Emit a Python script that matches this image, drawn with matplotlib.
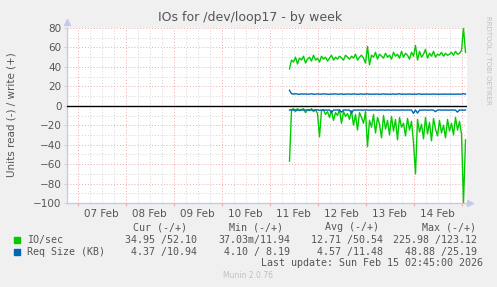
#!/usr/bin/python3

import matplotlib
matplotlib.use('Agg')
import matplotlib.pyplot as plt
import numpy as np

# hours since 07 Feb 00:00, one sample per hour
HOURS = np.arange(106, 195)

IO_WRITE = [38, 47, 45, 50, 43, 49, 47, 51, 44, 48,
            50, 46, 52, 47, 49, 45, 51, 48, 50, 46,
            49, 52, 47, 50, 48, 51, 49, 47, 52, 50,
            48, 51, 49, 53, 47, 50, 52, 49, 44, 61,
            42, 52, 50, 55, 48, 53, 51, 49, 54, 50,
            52, 48, 55, 51, 53, 49, 56, 50, 54, 52,
            48, 55, 51, 62, 47, 56, 50, 53, 58, 49,
            54, 51, 56, 50, 53, 52, 55, 51, 54, 52,
            53, 55, 52, 56, 53, 54, 57, 80, 55]

IO_READ = [57, 4, 3, 6, 3, 5, 4, 3, 7, 4,
           5, 3, 6, 4, 8, 32, 5, 4, 9, 6,
           12, 5, 15, 7, 10, 4, 18, 6, 11, 8,
           14, 5, 20, 9, 25, 7, 12, 18, 6, 42,
           15, 22, 9, 28, 12, 19, 33, 10, 24, 15,
           30, 11, 26, 14, 35, 12, 22, 18, 31, 13,
           25, 16, 38, 70, 14, 27, 19, 34, 12, 29,
           17, 36, 13, 24, 31, 15, 28, 20, 33, 14,
           26, 18, 30, 12, 25, 16, 29, 100, 35]

REQ_WRITE = [16, 12.5, 12, 12.4, 12, 11.8, 12.3, 12, 12.2, 11.9,
             12, 12.4, 11.8, 12, 12.2, 12, 11.9, 12.3, 12, 12,
             11.8, 12.1, 12, 12.3, 11.9, 12, 12.2, 11.8, 12, 12.1,
             12, 11.9, 12.2, 12, 11.8, 12, 12.1, 11.9, 12, 12.3,
             11.8, 12, 11.9, 12.1, 12, 11.8, 12, 12.2, 11.9, 12,
             11.8, 12, 12.1, 11.9, 12, 12.4, 11.8, 12, 11.9, 12,
             12.1, 11.8, 12, 11.9, 12, 12.3, 11.8, 12, 11.9, 12,
             11.8, 12, 12.1, 11.9, 12, 11.8, 12, 11.9, 12.1, 11.8,
             12, 11.9, 12, 11.8, 12.1, 11.9, 12, 12.4, 12]

REQ_READ = [4.4, 4.2, 4.5, 4.3, 4.4, 4.6, 4.3, 4.4, 4.5, 4.2,
            4.4, 4.3, 4.5, 4.4, 4.2, 4.6, 4.4, 4.3, 4.5, 4.4,
            4.3, 7.0, 4.4, 4.5, 4.3, 4.4, 6.5, 4.3, 4.4, 4.5,
            4.4, 7.5, 4.3, 4.5, 4.4, 4.3, 4.4, 4.5, 4.3, 4.4,
            4.5, 4.4, 4.3, 4.4, 4.5, 4.4, 4.3, 4.4, 4.5, 4.3,
            4.4, 4.5, 4.3, 4.4, 4.4, 4.5, 4.3, 4.4, 4.5, 4.3,
            4.4, 4.4, 7.8, 4.3, 7.5, 4.4, 4.5, 4.3, 4.4, 4.5,
            4.4, 4.3, 4.5, 6.0, 4.4, 4.3, 4.4, 4.5, 4.3, 4.4,
            4.5, 4.3, 4.4, 4.5, 6.5, 4.3, 4.4, 4.5, 4.4]

DAY_LABELS = ['07 Feb', '08 Feb', '09 Feb', '10 Feb', '11 Feb', '12 Feb', '13 Feb', '14 Feb']

LEGEND_ROWS = [('IO/sec', '#00cc00', '34.95 /52.10', '37.03m/11.94', '12.71 /50.54', '225.98 /123.12'),
               ('Req Size (KB)', '#0066b3', ' 4.37 /10.94', ' 4.10 / 8.19', ' 4.57 /11.48', '48.88 /25.19')]

W, H = 497, 287
BG = '#f0f0f0'
TXT = '#555555'
MONO = 'DejaVu Sans Mono'

fig = plt.figure(figsize=(W / 100, H / 100), dpi=100, facecolor=BG)
ax = fig.add_axes([67 / W, 1 - 203 / H, 400 / W, 175 / H], facecolor='white')

x_min, x_max = 194.75 - 200, 194.75
ax.set_xlim(x_min, x_max)
ax.set_ylim(-100, 80)

# grid: grey every 6h / 10 units, red at midnight / 20 units
for h in np.arange(-6, 200, 6):
    if x_min < h < x_max:
        major = h % 24 == 0
        ax.axvline(h, color='#f0a8a8' if major else '#d4d4d4', lw=0.7,
                   ls=(0, (1, 2)), zorder=1)
for v in range(-90, 81, 10):
    major = v % 20 == 0
    if v in (0, -100):
        continue
    ax.axhline(v, color='#f0a8a8' if major else '#d4d4d4', lw=0.7,
               ls=(0, (1, 2)), zorder=1)

hours = HOURS
ax.plot(hours, IO_WRITE, color='#00cc00', lw=1, zorder=3)
ax.plot(hours, -np.array(IO_READ), color='#00cc00', lw=1, zorder=3)
ax.plot(hours, REQ_WRITE, color='#0066b3', lw=1, zorder=4)
ax.plot(hours, -np.array(REQ_READ), color='#0066b3', lw=1, zorder=4)
ax.axhline(0, color='black', lw=1, zorder=5)

for s in ['top', 'right']:
    ax.spines[s].set_visible(False)
for s in ['left', 'bottom']:
    ax.spines[s].set_color('#c8c8ec')
    ax.spines[s].set_linewidth(1)

ax.set_yticks(range(-100, 81, 20))
ax.tick_params(axis='y', length=2, color='#d4d4d4', labelsize=7.5, labelcolor=TXT, pad=2)
ax.set_xticks([24 * k for k in range(0, 9)], [''] * 9)
ax.set_xticks([12 + 24 * k for k in range(8)], DAY_LABELS, minor=True)
ax.tick_params(axis='x', which='major', length=2, color='#f0a8a8')
ax.tick_params(axis='x', which='minor', length=0, labelsize=7.5, labelcolor=TXT, pad=4)

ax.plot([0], [1.035], marker='^', color='#c8c8ec', ms=4, transform=ax.transAxes, clip_on=False)
ax.plot([1.008], [0], marker='>', color='#c8c8ec', ms=4, transform=ax.transAxes, clip_on=False)


def put(x, y, s, **kw):
    fig.text(x / W, 1 - y / H, s, va='center', **kw)


put(250, 18, 'IOs for /dev/loop17 - by week', ha='center', fontsize=9, color=TXT)
put(12, 115, 'Units read (-) / write (+)', ha='center', rotation=90, fontsize=7.5, color=TXT)
put(488, 60, 'RRDTOOL / TOBI OETIKER', ha='center', rotation=270, fontsize=5, color='#c0c0c0')

fs = 7.2
for x, s in [(187, 'Cur (-/+)'), (283, 'Min (-/+)'), (379, 'Avg (-/+)'), (476, 'Max (-/+)')]:
    put(x, 227, s, ha='right', family=MONO, fontsize=fs, color=TXT)

for i, row in enumerate(LEGEND_ROWS):
    y = 240 + 12 * i
    fig.patches.append(plt.Rectangle((14 / W, 1 - (y + 3) / H), 6 / W, 6 / H,
                                     transform=fig.transFigure, color=row[1]))
    put(27, y, row[0], ha='left', family=MONO, fontsize=fs, color=TXT)
    put(197, y, row[2], ha='right', family=MONO, fontsize=fs, color=TXT)
    put(290, y, row[3], ha='right', family=MONO, fontsize=fs, color=TXT)
    put(383, y, row[4], ha='right', family=MONO, fontsize=fs, color=TXT)
    put(477, y, row[5], ha='right', family=MONO, fontsize=fs, color=TXT)

put(483, 263, 'Last update: Sun Feb 15 02:45:00 2026', ha='right', family=MONO, fontsize=fs, color=TXT)
put(248, 276, 'Munin 2.0.76', ha='center', fontsize=5.5, color='#c0c0c0')

fig.savefig('out.png', dpi=100, facecolor=BG)
